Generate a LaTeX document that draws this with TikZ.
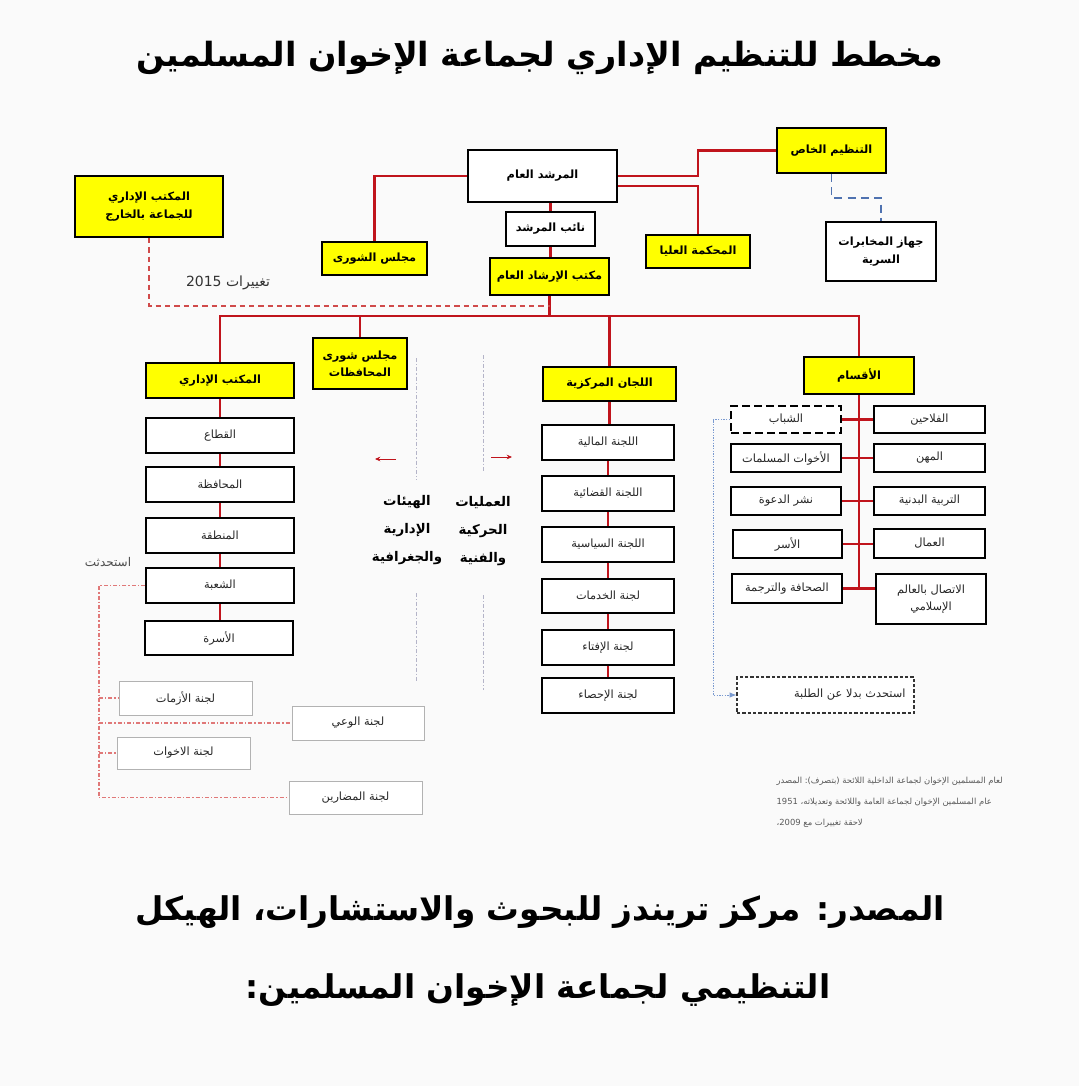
\documentclass[tikz,border=0pt]{standalone}
\usepackage{fontspec}
\newfontfamily\arabicfont[Script=Arabic]{DejaVu Sans}
\TeXXeTstate=1
\usetikzlibrary{arrows.meta,calc,shadows}
\definecolor{bgc}{HTML}{FAFAFA}
\definecolor{redln}{HTML}{C0141C}
\definecolor{ylw}{HTML}{FFFF00}
\definecolor{bluedashc}{HTML}{4F72B0}
\definecolor{bluedotc}{HTML}{7A9AD0}
\definecolor{pinkc}{HTML}{E07878}
\definecolor{grayc}{HTML}{B4B4C8}
\definecolor{reddashc}{HTML}{D04A4A}
\newcommand\artx[1]{\beginR #1\endR}
\newcommand\wrdbox[1]{\hbox{#1}}
\newcommand\bx[7]{\node[#6, minimum width={(#4-#2)*0.75pt}, minimum height={(#5-#3)*0.75pt}] (#1) at ({(#2+#4)/2},{(#3+#5)/2}) {#7};}
\begin{document}
\begin{tikzpicture}[x=0.75pt,y=-0.75pt,
  ybox/.style={draw=black, fill=ylw, line width=1.5pt, inner sep=1pt, align=center, font=\arabicfont\bfseries\fontsize{8.5}{13}\selectfont},
  wboxb/.style={draw=black, fill=white, line width=1.5pt, inner sep=1pt, align=center, font=\arabicfont\bfseries\fontsize{8.5}{13}\selectfont},
  wbox/.style={draw=black, fill=white, line width=1.5pt, inner sep=1pt, align=center, font=\arabicfont\fontsize{8.5}{13}\selectfont, text=black!85},
  wboxd/.style={wbox, dash pattern=on 6pt off 3pt},
  tbox/.style={draw=black!80, fill=white, line width=1pt, dash pattern=on 2.5pt off 1.5pt, inner sep=1pt, text width=120pt, align=right, font=\arabicfont\fontsize{8.5}{13}\selectfont, text=black!85},
  lbox/.style={draw=gray!60, fill=white, line width=0.6pt, inner sep=1pt, font=\arabicfont\fontsize{8.5}{13}\selectfont, text=black!85, drop shadow={opacity=0.2,shadow xshift=0.8pt,shadow yshift=-0.8pt}},
  redc/.style={draw=redln, line width=1.7pt},
  reddash/.style={draw=reddashc, line width=1.3pt, dash pattern=on 4pt off 3pt},
  bluedsh/.style={draw=bluedashc, line width=1.4pt, dash pattern=on 6pt off 4pt},
  bluedt/.style={draw=bluedotc, line width=0.6pt, dash pattern=on 1pt off 1pt},
  pinkd/.style={draw=pinkc, line width=0.8pt, dash pattern=on 3pt off 1.5pt on 1pt off 1.5pt},
  grayd/.style={draw=grayc, line width=0.6pt, dash pattern=on 3pt off 1.5pt on 1pt off 1.5pt},
  smallarr/.style={draw=redln, line width=0.7pt, -{Stealth[length=4pt,width=3.5pt]}},
  plain/.style={inner sep=1pt}
]
\useasboundingbox (0,0) rectangle (1079,1086);
\fill[bgc] (0,0) rectangle (1079,1086);

% title and source
\node[plain, font=\arabicfont\bfseries\fontsize{25}{30}\selectfont] (title) at (540,58) {\artx{مخطط للتنظيم الإداري لجماعة الإخوان المسلمين}};
\node[plain, font=\arabicfont\bfseries\fontsize{24.5}{30}\selectfont] (src1) at (540,912) {\artx{المصدر: مركز تريندز للبحوث والاستشارات، الهيكل}};
\node[plain, font=\arabicfont\bfseries\fontsize{24.5}{30}\selectfont] (src2) at (538,990) {\artx{التنظيمي لجماعة الإخوان المسلمين:}};

% top level
\bx{mursh}{468}{150}{617}{202}{wboxb}{\artx{المرشد العام}}
\bx{naib}{506}{212}{595}{246}{wboxb}{\artx{نائب المرشد}}
\bx{irshad}{490}{258}{609}{295}{ybox}{\artx{مكتب الإرشاد العام}}
\bx{shura}{322}{242}{427}{275}{ybox}{\artx{مجلس الشورى}}
\bx{mahkama}{646}{235}{750}{268}{ybox}{\artx{المحكمة العليا}}
\bx{khas}{777}{128}{886}{173}{ybox}{\artx{التنظيم الخاص}}
\bx{jihaz}{826}{222}{936}{281}{wboxb}{\artx{جهاز المخابرات}\\\artx{السرية}}
\bx{kharij}{75}{176}{223}{237}{ybox}{\artx{المكتب الإداري}\\\artx{للجماعة بالخارج}}
\node[plain, font=\arabicfont\fontsize{10.5}{13}\selectfont, text=black!80] (taghyir) at (228,283) {\artx{تغييرات 2015}};

% idari column
\bx{idari}{146}{363}{294}{398}{ybox}{\artx{المكتب الإداري}}
\bx{shurmuh}{313}{338}{407}{389}{ybox}{\artx{مجلس شورى}\\\artx{المحافظات}}
\bx{qita}{146}{418}{294}{453}{wbox}{\artx{القطاع}}
\bx{muhafaza}{146}{467}{294}{502}{wbox}{\artx{المحافظة}}
\bx{mintaqa}{146}{518}{294}{553}{wbox}{\artx{المنطقة}}
\bx{shuba}{146}{568}{294}{603}{wbox}{\artx{الشعبة}}
\bx{usra}{145}{621}{293}{655}{wbox}{\artx{الأسرة}}
\node[plain, font=\arabicfont\fontsize{9}{12}\selectfont, text=black!70] (istahdathat) at (108,562) {\artx{استحدثت}};

\bx{azamat}{119}{681}{252}{715}{lbox}{\artx{لجنة الأزمات}}
\bx{wai}{292}{706}{424}{740}{lbox}{\artx{لجنة الوعي}}
\bx{akhawat}{117}{737}{250}{769}{lbox}{\artx{لجنة الاخوات}}
\bx{mudarin}{289}{781}{422}{814}{lbox}{\artx{لجنة المضارين}}

% middle labels
\node[plain, align=center, font=\arabicfont\bfseries\fontsize{10}{21}\selectfont] (hayaat) at (407,530) {\artx{الهيئات}\\\artx{الإدارية}\\\artx{والجغرافية}};
\node[plain, align=center, font=\arabicfont\bfseries\fontsize{10}{21}\selectfont] (amaliyat) at (483,531) {\artx{العمليات}\\\artx{الحركية}\\\artx{والفنية}};

% lijan column
\bx{lijan}{543}{367}{676}{401}{ybox}{\artx{اللجان المركزية}}
\bx{maliya}{542}{425}{674}{460}{wbox}{\artx{اللجنة المالية}}
\bx{qadaiya}{542}{476}{674}{511}{wbox}{\artx{اللجنة القضائية}}
\bx{siyasiya}{542}{527}{674}{562}{wbox}{\artx{اللجنة السياسية}}
\bx{khadamat}{542}{579}{674}{613}{wbox}{\artx{لجنة الخدمات}}
\bx{ifta}{542}{630}{674}{665}{wbox}{\artx{لجنة الإفتاء}}
\bx{ihsa}{542}{678}{674}{713}{wbox}{\artx{لجنة الإحصاء}}

% aqsam
\bx{aqsam}{804}{357}{914}{394}{ybox}{\artx{الأقسام}}
\bx{fallahin}{874}{406}{985}{433}{wbox}{\artx{الفلاحين}}
\bx{mihan}{874}{444}{985}{472}{wbox}{\artx{المهن}}
\bx{tarbiya}{874}{487}{985}{515}{wbox}{\artx{التربية البدنية}}
\bx{ummal}{874}{529}{985}{558}{wbox}{\artx{العمال}}
\bx{ittisal}{876}{574}{986}{624}{wbox}{\artx{الاتصال بالعالم}\\\artx{الإسلامي}}
\bx{shabab}{731}{406}{841}{433}{wboxd}{\artx{الشباب}}
\bx{akhawatm}{731}{444}{841}{472}{wbox}{\artx{الأخوات المسلمات}}
\bx{dawa}{731}{487}{841}{515}{wbox}{\artx{نشر الدعوة}}
\bx{usar}{733}{530}{842}{558}{wbox}{\artx{الأسر}}
\bx{sahafa}{732}{574}{842}{603}{wbox}{\artx{الصحافة والترجمة}}
\bx{talaba}{737}{677}{914}{713}{tbox}{\artx{استحدث بدلا عن الطلبة}}

% source note: the picture prints its words from left to right, one box per word
\node[plain, anchor=north west, align=left, font=\arabicfont\fontsize{6.3}{15.5}\selectfont, text=black!65] (note) at (775,776) {\wrdbox{المصدر} \wrdbox{(بتصرف):} \wrdbox{اللائحة} \wrdbox{الداخلية} \wrdbox{لجماعة} \wrdbox{الإخوان} \wrdbox{المسلمين} \wrdbox{لعام}\\\wrdbox{1951} \wrdbox{وتعديلاته،} \wrdbox{واللائحة} \wrdbox{العامة} \wrdbox{لجماعة} \wrdbox{الإخوان} \wrdbox{المسلمين} \wrdbox{عام}\\\wrdbox{2009،} \wrdbox{مع} \wrdbox{تغييرات} \wrdbox{لاحقة}};

% connectors top
\draw[redc] (mursh.west) -| (shura.north);
\draw[redc] (mursh.east) -- ++(80,0) |- (khas.west);
\draw[redc] ([yshift=-7.5pt]mursh.east) -| (mahkama.north);
\draw[redc] (naib.north |- mursh.south) -- (naib.north);
\draw[redc] (naib.south) -- (naib.south |- irshad.north);
\coordinate (hb) at (550,316);
\coordinate (dz) at (549.5,306);
\draw[redc] (irshad.south) -- (irshad.south |- hb);
\draw[redc] (idari.north) -- (idari.north |- hb) -- (aqsam.north |- hb) -- (aqsam.north);
\draw[redc] (shurmuh.north) -- (shurmuh.north |- hb);
\draw[redc] (lijan.north) -- (lijan.north |- hb);
\draw[reddash] (kharij.south) |- (dz);
\draw[bluedsh] (khas.south) -- ++(0,24) -| (jihaz.north);

% columns
\foreach \a/\b in {idari/qita, qita/muhafaza, muhafaza/mintaqa, mintaqa/shuba, shuba/usra, lijan/maliya, maliya/qadaiya, qadaiya/siyasiya, siyasiya/khadamat, khadamat/ifta, ifta/ihsa}
  \draw[redc] (\a.south) -- (\a.south |- \b.north);
\draw[redc] (aqsam.south) -- (aqsam.south |- sahafa.east);
\foreach \a/\b in {shabab/fallahin, akhawatm/mihan, dawa/tarbiya, usar/ummal, sahafa/ittisal}
  \draw[redc] (\a.east) -- (\a.east -| \b.west);
\draw[bluedt, -{Latex[length=5pt,width=4pt]}] (shabab.west) -- ++(-17,0) |- (talaba.west);

% pink dashed
\coordinate (pk) at (99,0);
\draw[pinkd] (shuba.west) -| (pk |- mudarin.west) -- (mudarin.west);
\foreach \b in {azamat, wai, akhawat}
  \draw[pinkd] (pk |- \b.west) -- (\b.west);

% gray dividers and arrows
\coordinate (g1a) at (416,358); \coordinate (g1b) at (416,480);
\coordinate (g1c) at (416,593); \coordinate (g1d) at (416,682);
\coordinate (g2a) at (483,355); \coordinate (g2b) at (483,473);
\coordinate (g2c) at (483,595); \coordinate (g2d) at (483,690);
\draw[grayd] (g1a) -- (g1b); \draw[grayd] (g1c) -- (g1d);
\draw[grayd] (g2a) -- (g2b); \draw[grayd] (g2c) -- (g2d);
\coordinate (a1s) at (396,459); \coordinate (a1e) at (375,459);
\coordinate (a2s) at (491,457); \coordinate (a2e) at (512,457);
\draw[smallarr] (a1s) -- (a1e);
\draw[smallarr] (a2s) -- (a2e);
\end{tikzpicture}
\end{document}
